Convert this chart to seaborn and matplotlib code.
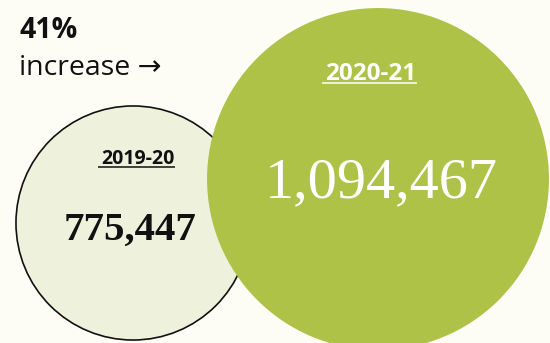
import matplotlib
matplotlib.use("Agg")
import matplotlib.pyplot as plt
import seaborn as sns
import pandas as pd

# ---- data ----
years = ["2019-20", "2020-21"]
enrolments = [775447, 1094467]
value_labels = ["775,447", "1,094,467"]
headline = "41%"
subline = "increase \u2192"

# ---- layout / style (pixels, figure is 550x343) ----
W, H = 550, 343
centers_x = [133, 378]
centers_y = [223, 179]
size_range = (28400, 60600)
fills = ["#eef1dc", "#adc247"]
edges = ["#111111", "#adc247"]
edge_widths = [1.2, 0]
bg = "#fdfdf5"
SANS = ["Open Sans", "DejaVu Sans"]
SERIF = ["Liberation Serif", "DejaVu Serif"]

sns.set_theme(style="white")
plt.rcParams["font.family"] = SANS

fig = plt.figure(figsize=(W / 100, H / 100), dpi=100, facecolor=bg)
ax = fig.add_axes([0, 0, 1, 1])
ax.set_facecolor(bg)

df = pd.DataFrame({"year": years, "value": enrolments,
                   "x": centers_x, "y": centers_y})
sns.scatterplot(data=df, x="x", y="y", hue="year", palette=fills,
                size="value", sizes=size_range, legend=False, ax=ax,
                edgecolor=edges, linewidth=edge_widths, alpha=1, zorder=2)
ax.set_xlim(0, W)
ax.set_ylim(H, 0)
ax.set_axis_off()

# headline text
ax.text(19, 38, headline, fontsize=20.5, fontweight="bold", color="#111111",
        ha="left", va="baseline", family=SANS)
ax.text(19, 75, subline, fontsize=20.5, color="#111111",
        ha="left", va="baseline", family=SANS)

fig.canvas.draw()
renderer = fig.canvas.get_renderer()

def underlined(x, y, s, size, color):
    t = ax.text(x, y, s, fontsize=size, fontweight="bold", color=color,
                ha="center", va="baseline", zorder=5, family=SANS)
    bb = t.get_window_extent(renderer=renderer)
    inv = ax.transData.inverted()
    (x0, _), (x1, _) = inv.transform([(bb.x0, 0), (bb.x1, 0)])
    ax.plot([x0 - 3, x1], [y + 2.5, y + 2.5], color=color, lw=1.1,
            zorder=5, solid_capstyle="butt")

underlined(138, 164, years[0], 14, "#111111")
underlined(371, 80, years[1], 17.5, "#ffffff")

ax.text(130, 240, value_labels[0], fontsize=29.5, fontweight="bold",
        color="#111111", ha="center", va="baseline", family=SERIF, zorder=5)
ax.text(381, 197, value_labels[1], fontsize=42, fontweight="normal",
        color="#ffffff", ha="center", va="baseline", family=SERIF, zorder=5)

fig.savefig("out.png", dpi=100, facecolor=bg)
